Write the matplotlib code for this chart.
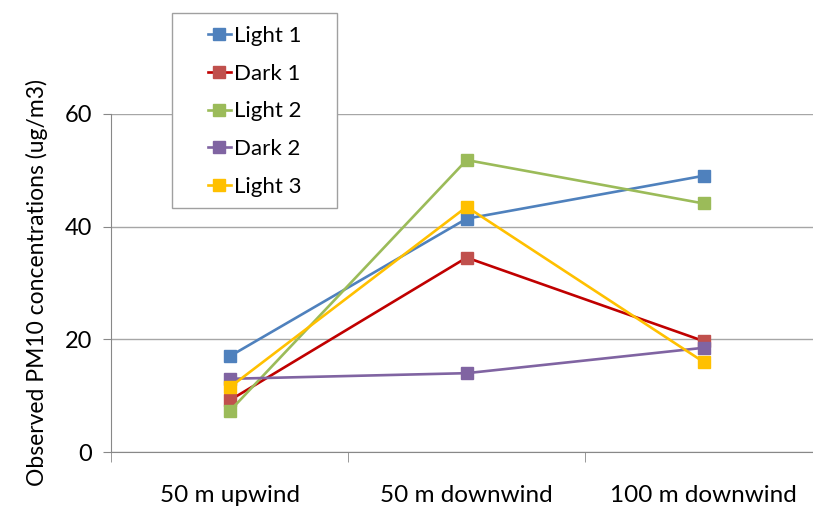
import matplotlib.pyplot as plt
from matplotlib.patches import Rectangle
import numpy as np

plt.rcParams['font.family'] = ['Lato', 'DejaVu Sans']

categories = ["50 m upwind", "50 m downwind", "100 m downwind"]
series_names = ["Light 1", "Dark 1", "Light 2", "Dark 2", "Light 3"]
light1 = [17.0, 41.4, 49.0]
dark1 = [9.2, 34.5, 19.7]
light2 = [7.3, 51.8, 44.1]
dark2 = [13.0, 14.0, 18.5]
light3 = [11.5, 43.5, 16.0]

line_colors = ["#4F81BD", "#C00000", "#9BBB59", "#8064A2", "#FFC000"]
marker_colors = ["#4F81BD", "#C0504D", "#9BBB59", "#8064A2", "#FFC000"]

W, H = 813, 508
fig = plt.figure(figsize=(W / 100, H / 100), dpi=100)
ax = fig.add_axes([0.137, 0.110, 0.874, 0.666])

x = np.arange(len(categories))
for name, vals, lc, mc in zip(series_names, [light1, dark1, light2, dark2, light3],
                              line_colors, marker_colors):
    ax.plot(x, vals, color=lc, lw=1.9, marker="s", ms=8.5,
            markerfacecolor=mc, markeredgecolor=mc, label=name)

ax.set_xlim(-0.5, 2.5)
ax.set_ylim(0, 60)
ax.set_yticks([0, 20, 40, 60])
ax.yaxis.grid(True, color="#A6A6A6", lw=1)
ax.set_axisbelow(True)

ax.set_xticks(x)
ax.set_xticklabels(categories, fontsize=17.5)
ax.set_xticks([-0.5, 0.5, 1.5, 2.5], minor=True)
ax.tick_params(axis="x", which="major", length=0, pad=24)
ax.tick_params(axis="x", which="minor", length=7, color="#888888", direction="out")
ax.tick_params(axis="y", labelsize=17, length=6, color="#888888", pad=8)

for s in ["top", "right"]:
    ax.spines[s].set_visible(False)
for s in ["left", "bottom"]:
    ax.spines[s].set_color("#888888")

ax.set_ylabel("Observed PM10 concentrations (ug/m3)", fontsize=16.5, labelpad=12)

# legend frame drawn separately (wider side padding than top/bottom)
fig.patches.append(Rectangle((172 / W, 1 - 208 / H), 165 / W, 195 / H,
                             transform=fig.transFigure, facecolor="white",
                             edgecolor="#A0A0A0", lw=1, zorder=5))
leg = fig.legend(loc="upper left", bbox_to_anchor=(190 / W, 1 - 8 / H), fontsize=16,
                 frameon=False, handlelength=1.05, handletextpad=0.15,
                 labelspacing=0.8, borderpad=0.3)
leg.set_zorder(6)

fig.savefig("out.png", dpi=100)
